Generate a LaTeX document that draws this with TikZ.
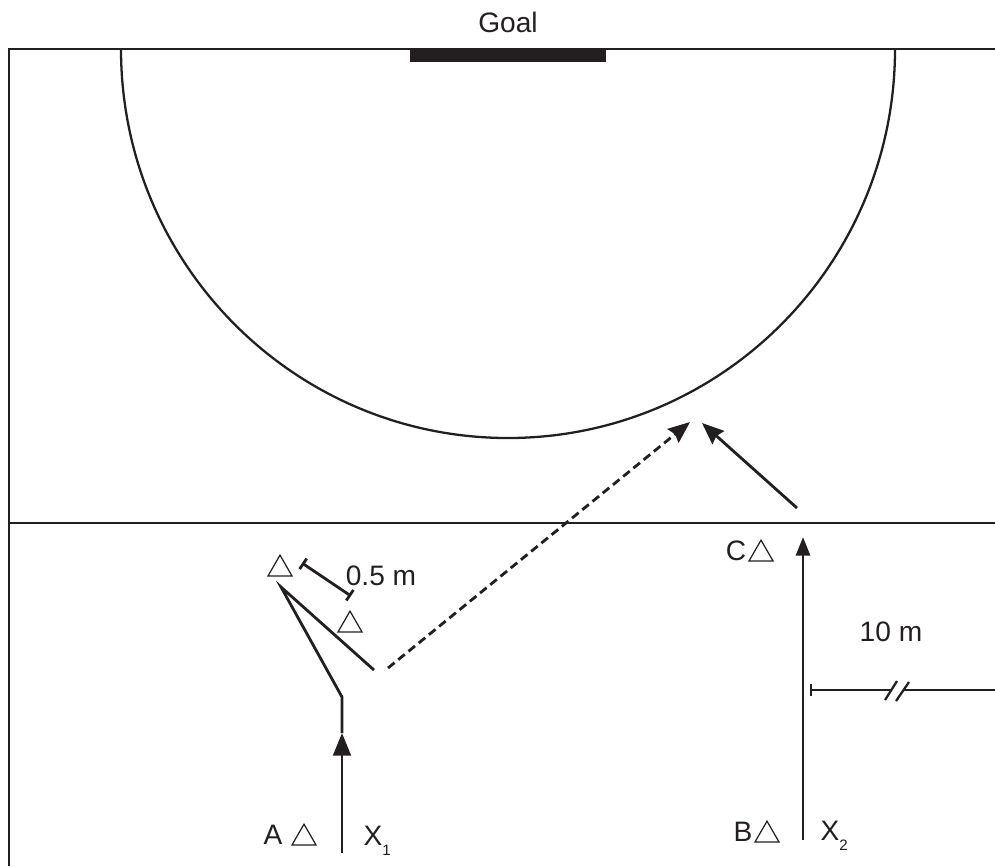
\documentclass[tikz,border=0pt]{standalone}
\usepackage{fontspec}
\setmainfont{Liberation Sans}
\usetikzlibrary{arrows.meta,shapes.geometric}
\definecolor{inkdark}{HTML}{231F20}
\newcommand{\subnum}[1]{\raisebox{-2.9pt}{\fontsize{4.3}{5}\selectfont #1}}
\tikzset{
  fieldline/.style={line width=0.65pt, inkdark},
  runline/.style={line width=0.8pt, inkdark},
  player/.style={regular polygon, regular polygon sides=3, draw=inkdark, line width=0.35pt,
    minimum size=0.277cm, inner sep=0pt},
  fieldlabel/.style={font=\fontsize{8}{9}\selectfont, text=inkdark, inner sep=0pt},
  bigtip/.style={-{Triangle[length=6.4pt,width=5pt]}},
  smalltip/.style={-{Triangle[length=5.3pt,width=4pt]}},
  shottip/.style={-{Stealth[length=6.2pt,width=5pt,inset=0.7pt]}}
}
\begin{document}
\begin{tikzpicture}[x=0.01cm,y=-0.01cm]
  \useasboundingbox (0,0) rectangle (995,866);
  % Field outline
  \draw[fieldline] (9,866) -- (9,49) -- (995,49);
  \draw[fieldline] (9,523) -- (995,523);
  % Shooting circle
  \draw[fieldline] (121,49) arc[start angle=180, end angle=0, x radius=387, y radius=389];
  % Goal
  \fill[inkdark] (410,49) rectangle (606,62);
  \node[fieldlabel] (goal) at (508,22) {Goal};
  % Players
  \node[player] (cone1) at (280,569) {};
  \node[player] (cone2) at (350,625) {};
  \node[player] (playerA) at (304,838) {};
  \node[player] (playerB) at (767,835) {};
  \node[player] (playerC) at (761,554) {};
  \node[fieldlabel] (labelA) at (273,835) {A};
  \node[fieldlabel] (labelB) at (743,832) {B};
  \node[fieldlabel] (labelC) at (736,551) {C};
  \node[fieldlabel, anchor=base west] (labelX1) at (363,845) {X\subnum{1}};
  \node[fieldlabel, anchor=base west] (labelX2) at (820,840) {X\subnum{2}};
  % Run of X1
  \coordinate (a0) at (342,853);
  \coordinate (a1) at (342,733);
  \coordinate (a2) at (342,697);
  \coordinate (a3) at (281,587);
  \coordinate (a4) at (374,670);
  \draw[runline, bigtip] (a0) -- (a1);
  \draw[runline, line join=miter] (a1) -- (a2) -- (a3) -- (a4);
  % Pass and shot
  \coordinate (p0) at (388,668);
  \coordinate (p1) at (690,422);
  \coordinate (s0) at (797,508);
  \coordinate (s1) at (702,423);
  \draw[runline, shottip, dash pattern=on 2.4pt off 1.35pt] (p0) -- (p1);
  \draw[runline, shottip] (s0) -- (s1);
  % Run of X2
  \coordinate (b0) at (803,840);
  \coordinate (b1) at (803,537);
  \draw[runline, smalltip] (b0) -- (b1);
  % Distance 0.5 m
  \coordinate (d0) at (302,563);
  \coordinate (d1) at (351,596);
  \draw[runline, {Bar[width=3.6pt]}-{Bar[width=3.6pt]}] (d0) -- (d1);
  \node[fieldlabel] (half) at (381,576) {0.5 m};
  % Distance 10 m
  \coordinate (e0) at (810,690);
  \coordinate (e1) at (891,690);
  \coordinate (e2) at (903,690);
  \coordinate (e3) at (995,690);
  \draw[fieldline, {Bar[width=3.6pt]}-] (e0) -- (e1);
  \draw[fieldline] (e2) -- (e3);
  \draw[fieldline] (885,700) -- (897,681);
  \draw[fieldline] (896,701) -- (909,682);
  \node[fieldlabel] (ten) at (891,632) {10 m};
\end{tikzpicture}
\end{document}
